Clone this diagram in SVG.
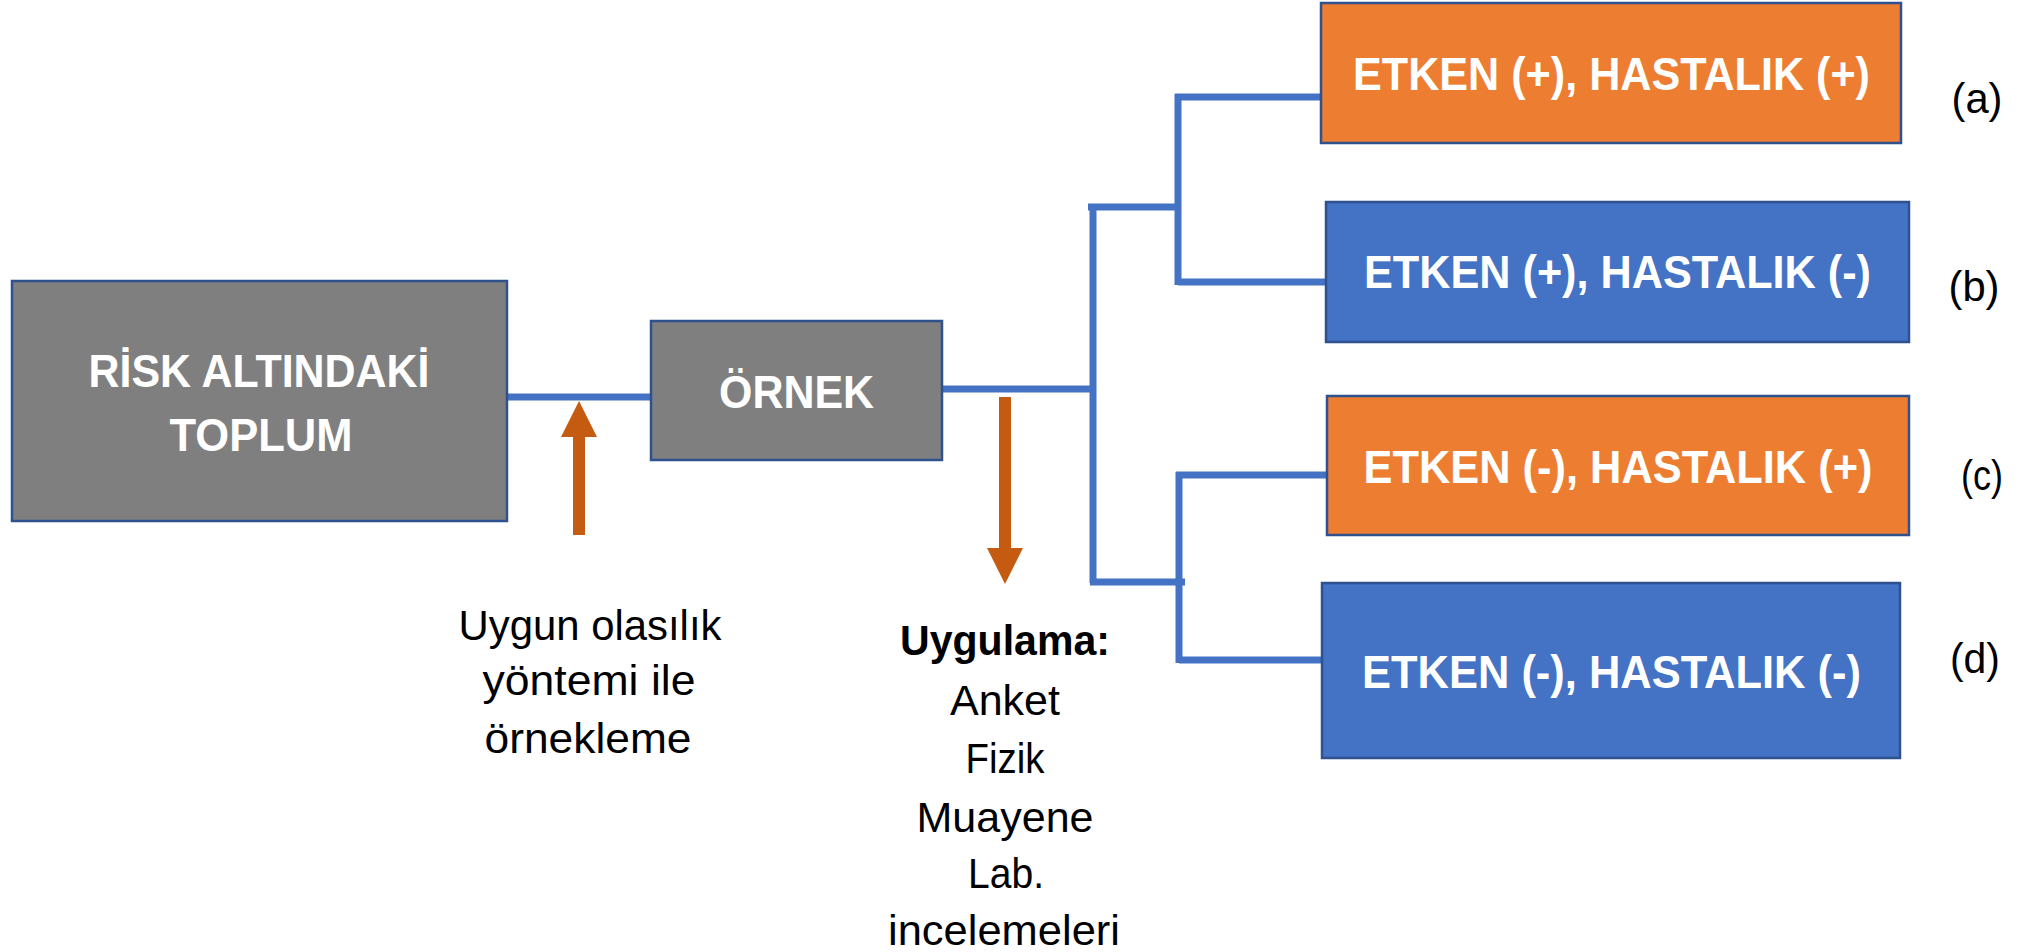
<svg xmlns="http://www.w3.org/2000/svg" width="2020" height="952" viewBox="0 0 2020 952">
<style>
.box{stroke:#2f528f;stroke-width:2.5}
.gray{fill:#7f7f7f}
.orange{fill:#ed7d31}
.blue{fill:#4472c4}
.bt{font-family:"Liberation Sans",Arial,sans-serif;font-weight:bold;fill:#ffffff;text-anchor:middle}
.t{font-family:"Liberation Sans",Arial,sans-serif;fill:#000000;text-anchor:middle;font-size:42px}
.tb{font-weight:bold}
.conn{stroke:#4472c4;stroke-width:7;fill:none}
.arr{fill:#c55a11}
</style>
<rect width="2020" height="952" fill="#ffffff"/>
<g id="connectors">
<path class="conn" d="M507 397 H651"/>
<path class="conn" d="M942 389 H1091"/>
<path class="conn" d="M1088 207 H1181"/>
<path class="conn" d="M1093 207 V583"/>
<path class="conn" d="M1090 582 H1185"/>
<path class="conn" d="M1178 94 V285"/>
<path class="conn" d="M1175 97 H1321"/>
<path class="conn" d="M1178 282 H1326"/>
<path class="conn" d="M1179 472 V663"/>
<path class="conn" d="M1176 475 H1327"/>
<path class="conn" d="M1179 660 H1322"/>
<polygon id="arrow-up" class="arr" points="579,401 597,437 585,437 585,535 573,535 573,437 561,437"/>
<polygon id="arrow-down" class="arr" points="1005,584 1023,548 1011,548 1011,397 999,397 999,548 987,548"/>
</g>
<g id="node-risk">
<rect class="box gray" x="12" y="281" width="495" height="240"/>
<text class="bt" x="259" y="387" font-size="47" textLength="341" lengthAdjust="spacingAndGlyphs">RİSK ALTINDAKİ</text>
<text class="bt" x="261" y="451" font-size="47" textLength="183" lengthAdjust="spacingAndGlyphs">TOPLUM</text>
</g>
<g id="node-ornek">
<rect class="box gray" x="651" y="321" width="291" height="139"/>
<text class="bt" x="796.5" y="408" font-size="47" textLength="155" lengthAdjust="spacingAndGlyphs">ÖRNEK</text>
</g>
<g id="node-a">
<rect class="box orange" x="1321" y="3" width="580" height="140"/>
<text class="bt" x="1611.5" y="90" font-size="47" textLength="517" lengthAdjust="spacingAndGlyphs">ETKEN (+), HASTALIK (+)</text>
</g>
<g id="node-b">
<rect class="box blue" x="1326" y="202" width="583" height="140"/>
<text class="bt" x="1617.5" y="288" font-size="47" textLength="507" lengthAdjust="spacingAndGlyphs">ETKEN (+), HASTALIK (-)</text>
</g>
<g id="node-c">
<rect class="box orange" x="1327" y="396" width="582" height="139"/>
<text class="bt" x="1618" y="483" font-size="47" textLength="509" lengthAdjust="spacingAndGlyphs">ETKEN (-), HASTALIK (+)</text>
</g>
<g id="node-d">
<rect class="box blue" x="1322" y="583" width="578" height="175"/>
<text class="bt" x="1611.5" y="688" font-size="47" textLength="499" lengthAdjust="spacingAndGlyphs">ETKEN (-), HASTALIK (-)</text>
</g>
<g id="labels">
<text class="t" x="1977" y="113" textLength="51" lengthAdjust="spacingAndGlyphs">(a)</text>
<text class="t" x="1974" y="301" textLength="51" lengthAdjust="spacingAndGlyphs">(b)</text>
<text class="t" x="1982" y="490" textLength="42" lengthAdjust="spacingAndGlyphs">(c)</text>
<text class="t" x="1975" y="673" textLength="50" lengthAdjust="spacingAndGlyphs">(d)</text>
</g>
<g id="note-sampling">
<text class="t" x="590" y="640" textLength="263" lengthAdjust="spacingAndGlyphs">Uygun olasılık</text>
<text class="t" x="589" y="695" textLength="213" lengthAdjust="spacingAndGlyphs">yöntemi ile</text>
<text class="t" x="588" y="753" textLength="207" lengthAdjust="spacingAndGlyphs">örnekleme</text>
</g>
<g id="note-application">
<text class="t tb" x="1005" y="655" textLength="210" lengthAdjust="spacingAndGlyphs">Uygulama:</text>
<text class="t" x="1005" y="715" textLength="110" lengthAdjust="spacingAndGlyphs">Anket</text>
<text class="t" x="1005" y="773" textLength="79" lengthAdjust="spacingAndGlyphs">Fizik</text>
<text class="t" x="1005" y="832" textLength="177" lengthAdjust="spacingAndGlyphs">Muayene</text>
<text class="t" x="1006" y="888" textLength="76" lengthAdjust="spacingAndGlyphs">Lab.</text>
<text class="t" x="1004" y="945" textLength="232" lengthAdjust="spacingAndGlyphs">incelemeleri</text>
</g>
</svg>
